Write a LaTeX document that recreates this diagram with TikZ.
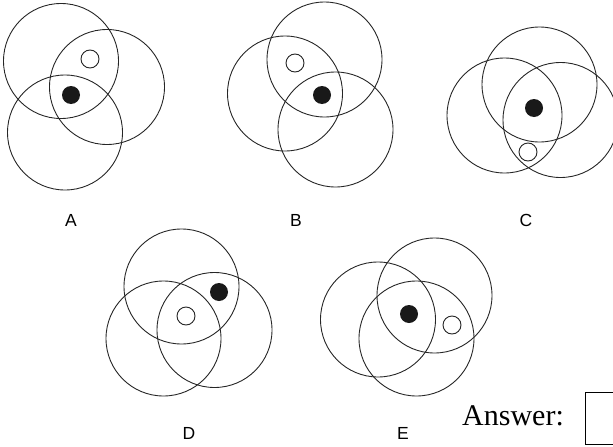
\documentclass[tikz,border=0pt]{standalone}
\usepackage{fontspec}
\setmainfont{Liberation Serif}
\newfontfamily\labelfont{Liberation Sans}
\begin{document}
\begin{tikzpicture}[x=1pt,y=-1pt,
  ring/.style={draw=black!85,line width=0.9pt},
  hole/.style={draw=black!85,line width=0.9pt,fill=white},
  dot/.style={fill=black!90},
  lab/.style={font=\labelfont\fontsize{17.5}{20}\selectfont,inner sep=0pt}]
\useasboundingbox (0,0) rectangle (613,447);
% A
\draw[ring] (61,61) circle (57.5);
\draw[ring] (107,87) circle (57.5);
\draw[ring] (65,132.5) circle (57.5);
\draw[hole] (90,59) circle (9);
\fill[dot] (71,95) circle (9);
\node[lab] (lA) at (71,220) {A};
% B
\draw[ring] (324.5,59.5) circle (57.5);
\draw[ring] (285,93.5) circle (57.5);
\draw[ring] (335.5,129.5) circle (57.5);
\draw[hole] (295,63) circle (9);
\fill[dot] (322,95) circle (9);
\node[lab] (lB) at (296,220) {B};
% C
\draw[ring] (539.5,84.5) circle (57.5);
\draw[ring] (504.5,115.5) circle (57.5);
\draw[ring] (560.5,120) circle (57.5);
\fill[dot] (534,108) circle (9);
\draw[hole] (528,152) circle (9);
\node[lab] (lC) at (526,220) {C};
% D
\draw[ring] (181.5,286.5) circle (57.5);
\draw[ring] (163.5,338.5) circle (57.5);
\draw[ring] (214.5,330) circle (57.5);
\fill[dot] (219,292) circle (9);
\draw[hole] (186,316) circle (9);
\node[lab] (lD) at (189,433) {D};
% E
\draw[ring] (378,319.5) circle (57.5);
\draw[ring] (434.5,295.5) circle (57.5);
\draw[ring] (416.5,338.5) circle (57.5);
\fill[dot] (409,314) circle (9);
\draw[hole] (452,325) circle (9);
\node[lab] (lE) at (403,433) {E};
% Answer
\node[anchor=base west,inner sep=0pt,font=\fontsize{30}{33}\selectfont] (ans) at (462,425) {Answer:};
\draw[line width=0.9pt] (585,392) rectangle (640,444);
\end{tikzpicture}
\end{document}
